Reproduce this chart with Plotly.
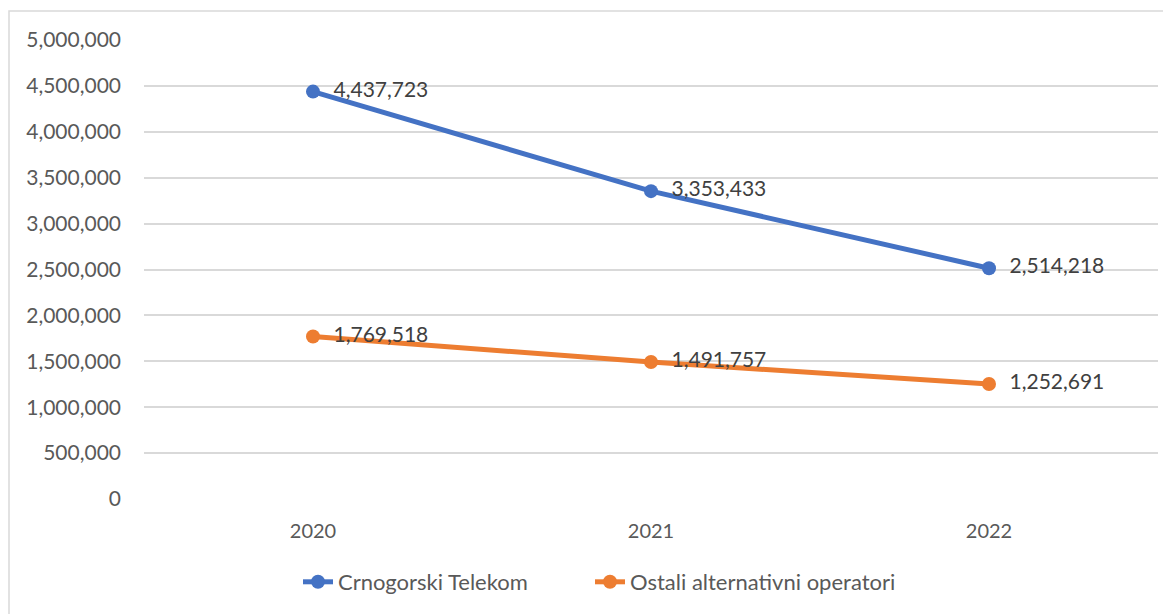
import plotly.graph_objects as go

years = ["2020", "2021", "2022"]
telekom = [4437723, 3353433, 2514218]
ostali = [1769518, 1491757, 1252691]
names = ["Crnogorski Telekom", "Ostali alternativni operatori"]
colors = ["#4472C4", "#ED7D31"]
y_ticks = list(range(0, 5000001, 500000))

FONT = "Lato"
W, H = 1171, 614
OFF = 8  # page offset of the figure in the browser
L, R, T, B = 144 - OFF, 21, 40 - OFF, 123
pw = W - L - R
ph = H - T - B

fig = go.Figure()
for i, (name, vals, col) in enumerate(zip(names, [telekom, ostali], colors)):
    fig.add_trace(go.Scatter(
        x=years, y=vals, name=name, mode="lines+markers+text",
        line=dict(color=col, width=5),
        marker=dict(color=col, size=14),
        text=["\u00a0\u00a0" + f"{v:,}" for v in vals],
        textposition="middle right",
        textfont=dict(family=FONT, size=21, color="#404040"),
        cliponaxis=False,
        legend="legend" if i == 0 else "legend2",
    ))

fig.add_shape(type="rect", xref="paper", yref="paper",
              x0=(1 - L) / pw, x1=(W + 5 - L) / pw,
              y0=-(H + 5 - T - ph) / ph, y1=1 + (T - 3) / ph,
              line=dict(color="#D9D9D9", width=1.5), fillcolor="rgba(0,0,0,0)", layer="below")

leg_common = dict(orientation="h", xanchor="left", y=-83 / ph, yanchor="middle",
                  font=dict(family=FONT, size=22, color="#595959"),
                  bgcolor="rgba(0,0,0,0)")

fig.update_layout(
    width=W, height=H,
    margin=dict(l=L, r=R, t=T, b=B, autoexpand=False),
    paper_bgcolor="white", plot_bgcolor="white",
    font=dict(family=FONT, size=19, color="#595959"),
    showlegend=True,
    legend=dict(x=(298 - 144) / pw, **leg_common),
    legend2=dict(x=(590 - 144) / pw, **leg_common),
    xaxis=dict(type="category", range=[-0.5, 2.5], showgrid=False, zeroline=False,
               showline=False, ticks="", ticklabelstandoff=18,
               tickfont=dict(size=20, color="#595959")),
    yaxis=dict(range=[0, 5000000], tickvals=y_ticks, tickformat=",", showgrid=True,
               gridcolor="#D9D9D9", gridwidth=1.5, zeroline=False, showline=False,
               ticks="", ticklabelstandoff=22, tickfont=dict(size=21, color="#595959")),
)
fig.write_html("out.html")
